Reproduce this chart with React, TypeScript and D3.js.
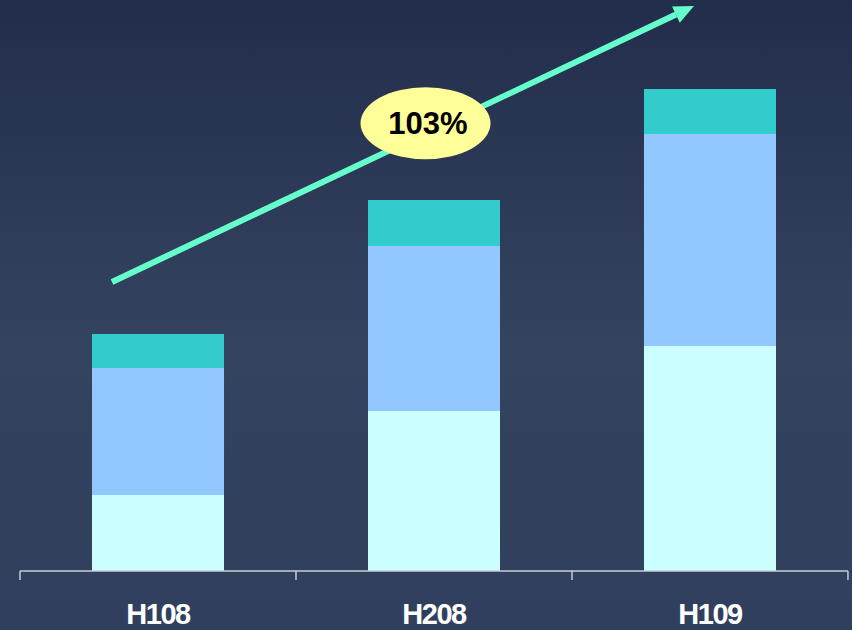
import React from "react";
import * as d3 from "d3";

const categories = ["H108", "H208", "H109"];
const baseValues = [76, 160, 225];
const middleValues = [127, 165, 212];
const topValues = [34, 46, 45];
const seriesKeys = ["base", "middle", "top"];
const seriesColors = ["#CCFFFF", "#90C8FF", "#33CCCC"];
const growthLabel = "103%";

const W = 852;
const H = 630;

export default function App() {
  const rows = categories.map((c, i) => ({
    cat: c,
    base: baseValues[i],
    middle: middleValues[i],
    top: topValues[i],
  }));
  const stacked = d3.stack<any>().keys(seriesKeys)(rows);

  const x = d3
    .scaleBand<string>()
    .domain(categories)
    .range([20, 848])
    .paddingInner(0.5217)
    .paddingOuter(0.2609);
  const y = d3.scaleLinear().domain([0, 571]).range([571, 0]);

  const step = x.step();
  const tickXs = d3.range(categories.length + 1).map((i) => 20 + i * step);

  // arrow
  const ax1 = 112, ay1 = 282, ax2 = 694, ay2 = 6;
  const ang = Math.atan2(ay2 - ay1, ax2 - ax1);
  const headLen = 20, headW = 9;
  const bx = ax2 - headLen * Math.cos(ang);
  const by = ay2 - headLen * Math.sin(ang);
  const px = -Math.sin(ang), py = Math.cos(ang);
  const head = `M${ax2},${ay2} L${bx + px * headW},${by + py * headW} L${bx - px * headW},${by - py * headW} Z`;

  return (
    <svg
      width={W}
      height={H}
      style={{ position: "absolute", left: 0, top: 0, display: "block" }}
      fontFamily="'Liberation Sans', Arial, sans-serif"
    >
      <defs>
        <linearGradient id="bg" x1="0" y1="0" x2="0" y2="1">
          <stop offset="0" stopColor="#222D4C" />
          <stop offset="0.55" stopColor="#34445F" />
          <stop offset="1" stopColor="#2F3F5D" />
        </linearGradient>
      </defs>
      <rect x={0} y={0} width={W} height={H} fill="url(#bg)" />
      {stacked.map((s, si) => (
        <g key={s.key} fill={seriesColors[si]}>
          {s.map((d, i) => (
            <rect
              key={i}
              x={x(categories[i])}
              y={y(d[1])}
              width={x.bandwidth()}
              height={y(d[0]) - y(d[1])}
            />
          ))}
        </g>
      ))}
      <line x1={20} x2={848} y1={571} y2={571} stroke="#C8CCD4" strokeWidth={1.5} />
      {tickXs.map((tx, i) => (
        <line key={i} x1={tx} x2={tx} y1={571} y2={580} stroke="#C8CCD4" strokeWidth={1.5} />
      ))}
      {categories.map((c) => (
        <text
          key={c}
          x={(x(c) as number) + x.bandwidth() / 2}
          y={624}
          textAnchor="middle"
          fill="#FFFFFF"
          fontWeight="bold"
          fontSize={29}
          letterSpacing={-1.5}
        >
          {c}
        </text>
      ))}
      <line
        x1={ax1}
        y1={ay1}
        x2={bx}
        y2={by}
        stroke="#66FFCC"
        strokeWidth={6}
      />
      <path d={head} fill="#66FFCC" />
      <ellipse cx={425.5} cy={123.3} rx={65} ry={36} fill="#FFFF99" />
      <text
        x={428}
        y={133.5}
        textAnchor="middle"
        fill="#000000"
        fontWeight="bold"
        fontSize={31}
      >
        {growthLabel}
      </text>
    </svg>
  );
}
